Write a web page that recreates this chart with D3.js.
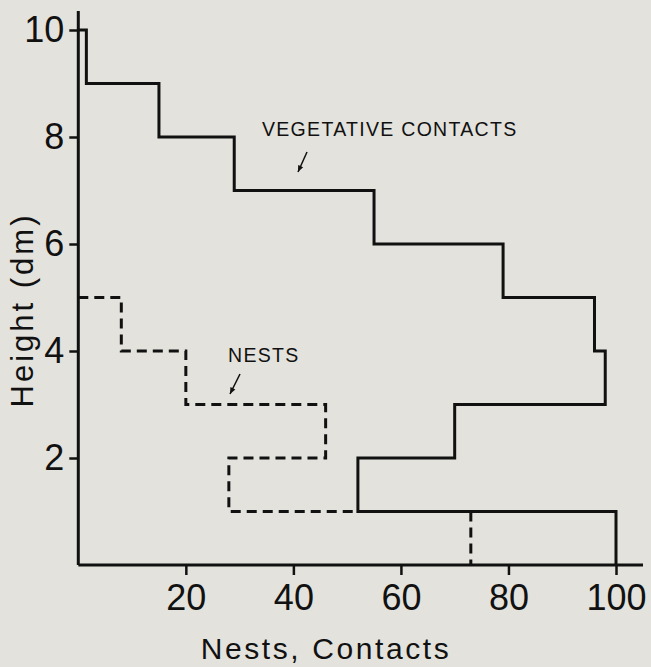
<!DOCTYPE html>
<html>
<head>
<meta charset="utf-8">
<script src="https://cdn.jsdelivr.net/npm/d3@7"></script>
<style>
  body { margin: 0; background: #e3e2dc; }
  svg { display: block; }
  text { font-family: "Liberation Sans", Arial, sans-serif; fill: #111; }
</style>
</head>
<body>
<div id="chart"></div>
<script>
var width = 651;
var height = 667;

// height bins (dm), bottom edge of each bin
var bins = [0, 1, 2, 3, 4, 5, 6, 7, 8, 9];
var vegContacts = [100, 52, 70, 98, 96, 79, 55, 29, 15, 1.5];
var nests = [73, 28, 46, 20, 8];
var xTicks = [20, 40, 60, 80, 100];
var yTicks = [2, 4, 6, 8, 10];

var x = d3.scaleLinear().domain([0, 100]).range([78.3, 616]);
var y = d3.scaleLinear().domain([0, 10]).range([565, 30]);

var svg = d3.select("#chart")
  .append("svg")
  .attr("width", width)
  .attr("height", height);

// step outline: start at axis on the top edge, walk down bin by bin
function stepPoints(vals) {
  var pts = [[0, vals.length]];
  for (var i = vals.length - 1; i >= 0; i--) {
    pts.push([vals[i], bins[i] + 1]);
    pts.push([vals[i], bins[i]]);
  }
  return pts;
}

var line = d3.line()
  .x(function(d) { return x(d[0]); })
  .y(function(d) { return y(d[1]); });

// axes
var xAxis = svg.append("g")
  .attr("transform", "translate(0," + y(0) + ")")
  .call(d3.axisBottom(x).tickValues(xTicks).tickSize(10).tickPadding(9));
var yAxis = svg.append("g")
  .attr("transform", "translate(" + x(0) + ",0)")
  .call(d3.axisLeft(y).tickValues(yTicks).tickSize(9).tickPadding(5));

[xAxis, yAxis].forEach(function(a) {
  a.select(".domain").remove();
  a.selectAll("line").attr("stroke", "#111").attr("stroke-width", 2.5);
  a.selectAll("text")
    .style("font-size", "36px")
    .style("font-family", "Liberation Sans, Arial, sans-serif")
    .attr("fill", "#111");
});

svg.append("line")
  .attr("x1", x(0)).attr("x2", 643)
  .attr("y1", y(0)).attr("y2", y(0))
  .attr("stroke", "#111").attr("stroke-width", 3);
svg.append("line")
  .attr("x1", x(0)).attr("x2", x(0))
  .attr("y1", 11).attr("y2", y(0))
  .attr("stroke", "#111").attr("stroke-width", 3);

// nests (dashed) under vegetative contacts (solid)
svg.append("path")
  .datum(stepPoints(nests))
  .attr("d", line)
  .attr("fill", "none")
  .attr("stroke", "#111")
  .attr("stroke-width", 3)
  .attr("stroke-dasharray", "10,6");

svg.append("path")
  .datum(stepPoints(vegContacts))
  .attr("d", line)
  .attr("fill", "none")
  .attr("stroke", "#111")
  .attr("stroke-width", 3);

// labels
svg.append("text")
  .attr("x", 262).attr("y", 136)
  .style("font-size", "19.5px")
  .style("letter-spacing", "1.3px")
  .text("VEGETATIVE CONTACTS");
svg.append("line")
  .attr("x1", 307).attr("y1", 152).attr("x2", 298).attr("y2", 172)
  .attr("stroke", "#111").attr("stroke-width", 1.5);

svg.append("text")
  .attr("x", 228).attr("y", 362)
  .style("font-size", "19.5px")
  .style("letter-spacing", "1.3px")
  .text("NESTS");
svg.append("line")
  .attr("x1", 240).attr("y1", 374).attr("x2", 230).attr("y2", 394)
  .attr("stroke", "#111").attr("stroke-width", 1.5);

// arrow heads
[[298, 172, 307, 152], [230, 394, 240, 374]].forEach(function(a) {
  var ang = Math.atan2(a[1] - a[3], a[0] - a[2]);
  var L = 7, w = 0.4;
  var p = [
    [a[0], a[1]],
    [a[0] - L * Math.cos(ang - w), a[1] - L * Math.sin(ang - w)],
    [a[0] - L * Math.cos(ang + w), a[1] - L * Math.sin(ang + w)]
  ];
  svg.append("path").attr("d", "M" + p.join("L") + "Z").attr("fill", "#111");
});

svg.append("text")
  .attr("x", 326).attr("y", 659)
  .attr("text-anchor", "middle")
  .style("font-size", "30px")
  .style("letter-spacing", "2.6px")
  .text("Nests, Contacts");

svg.append("text")
  .attr("transform", "translate(33,310) rotate(-90)")
  .attr("text-anchor", "middle")
  .style("font-size", "31px")
  .style("letter-spacing", "3px")
  .text("Height (dm)");
</script>
</body>
</html>
